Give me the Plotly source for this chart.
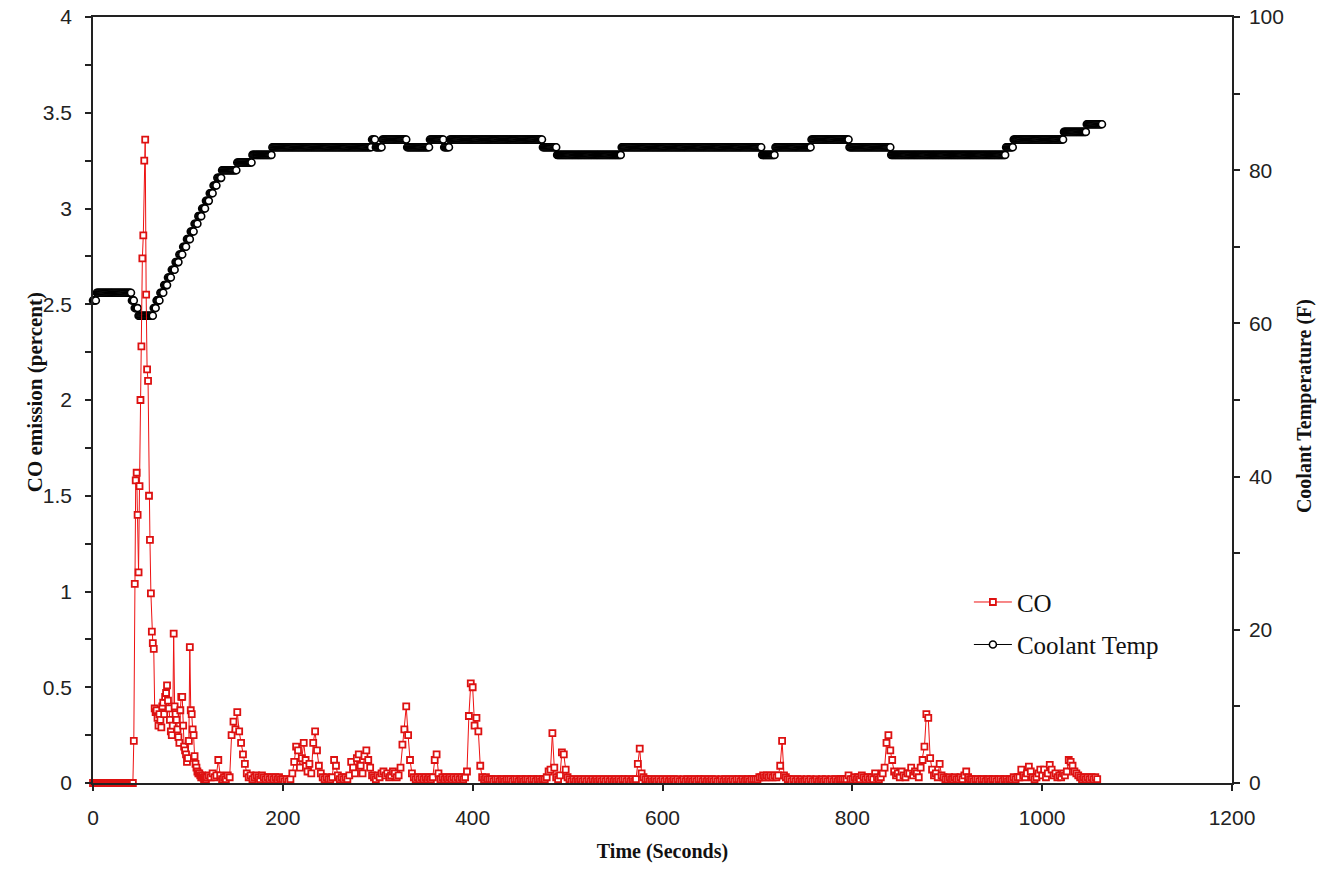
import numpy as np
import plotly.graph_objects as go

# ---------------- data ----------------
# CO emission (percent): 1-second samples for 0..119 s, then 2-second samples
co_time = list(range(0, 120)) + list(range(120, 1060, 2))
co_values = [
    # t 0..119 (1 s)
    0, 0, 0, 0, 0, 0, 0, 0, 0, 0,
    0, 0, 0, 0, 0, 0, 0, 0, 0, 0,
    0, 0, 0, 0, 0, 0, 0, 0, 0, 0,
    0, 0, 0, 0, 0, 0, 0, 0, 0, 0,
    0, 0, 0, 0.22, 1.04, 1.58, 1.62, 1.40, 1.10, 1.55,
    2.00, 2.28, 2.74, 2.86, 3.25, 3.36, 2.55, 2.16, 2.10, 1.50,
    1.27, 0.99, 0.79, 0.73, 0.70, 0.39, 0.37, 0.38, 0.34, 0.30,
    0.36, 0.33, 0.29, 0.40, 0.42, 0.36, 0.45, 0.47, 0.51, 0.43,
    0.39, 0.33, 0.27, 0.25, 0.30, 0.78, 0.40, 0.36, 0.33, 0.28,
    0.24, 0.21, 0.38, 0.45, 0.45, 0.30, 0.19, 0.17, 0.15, 0.11,
    0.13, 0.22, 0.71, 0.38, 0.36, 0.28, 0.25, 0.14, 0.10, 0.08,
    0.06, 0.05, 0.05, 0.04, 0.03, 0.04, 0.03, 0.02, 0.03, 0.02,
    # t 120..1058 (2 s)
    0.03, 0.04, 0.03, 0.05, 0.03, 0.04, 0.12, 0.04, 0.02, 0.03,   # 120
    0.02, 0.04, 0.03, 0.25, 0.32, 0.28, 0.37, 0.27, 0.21, 0.15,   # 140
    0.10, 0.05, 0.03, 0.04, 0.02, 0.03, 0.04, 0.03, 0.02, 0.04,   # 160
    0.03, 0.02, 0.03, 0.02, 0.03, 0.02, 0.03, 0.02, 0.03, 0.02,   # 180
    0.02, 0.01, 0.02, 0.01, 0.02, 0.05, 0.11, 0.19, 0.17, 0.08,   # 200
    0.13, 0.21, 0.12, 0.06, 0.10, 0.05, 0.21, 0.27, 0.17, 0.09,   # 220
    0.05, 0.03, 0.02, 0.03, 0.02, 0.02, 0.03, 0.12, 0.09, 0.04,   # 240
    0.02, 0.03, 0.02, 0.03, 0.02, 0.04, 0.11, 0.08, 0.05, 0.13,   # 260
    0.15, 0.09, 0.05, 0.14, 0.17, 0.12, 0.08, 0.04, 0.03, 0.02,   # 280
    0.04, 0.03, 0.05, 0.06, 0.04, 0.05, 0.03, 0.04, 0.06, 0.05,   # 300
    0.03, 0.04, 0.08, 0.20, 0.28, 0.40, 0.25, 0.12, 0.05, 0.03,   # 320
    0.02, 0.03, 0.02, 0.03, 0.02, 0.03, 0.02, 0.03, 0.02, 0.03,   # 340
    0.12, 0.15, 0.05, 0.02, 0.03, 0.02, 0.03, 0.02, 0.03, 0.02,   # 360
    0.03, 0.02, 0.03, 0.02, 0.03, 0.02, 0.03, 0.06, 0.35, 0.52,   # 380
    0.50, 0.30, 0.34, 0.27, 0.09, 0.03, 0.02, 0.03, 0.02, 0.02,   # 400
    0.02, 0.01, 0.02, 0.02, 0.01, 0.02, 0.02, 0.01, 0.02, 0.02,   # 420
    0.02, 0.01, 0.02, 0.02, 0.01, 0.02, 0.02, 0.01, 0.02, 0.02,   # 440
    0.01, 0.02, 0.02, 0.01, 0.02, 0.02, 0.01, 0.02, 0.02, 0.03,   # 460
    0.06, 0.07, 0.26, 0.08, 0.03, 0.02, 0.04, 0.16, 0.15, 0.07,   # 480
    0.03, 0.02, 0.01, 0.02, 0.01, 0.02, 0.01, 0.02, 0.01, 0.02,   # 500
    0.01, 0.02, 0.01, 0.02, 0.01, 0.02, 0.01, 0.02, 0.01, 0.02,   # 520
    0.01, 0.02, 0.01, 0.02, 0.01, 0.02, 0.01, 0.02, 0.01, 0.02,   # 540
    0.02, 0.01, 0.02, 0.01, 0.02, 0.01, 0.02, 0.10, 0.18, 0.05,   # 560
    0.03, 0.02, 0.02, 0.01, 0.02, 0.01, 0.02, 0.01, 0.02, 0.01,   # 580
    0.02, 0.01, 0.02, 0.01, 0.02, 0.01, 0.02, 0.01, 0.02, 0.01,   # 600
    0.01, 0.02, 0.01, 0.02, 0.01, 0.02, 0.01, 0.02, 0.01, 0.02,   # 620
    0.02, 0.01, 0.02, 0.01, 0.02, 0.01, 0.02, 0.01, 0.02, 0.01,   # 640
    0.01, 0.02, 0.01, 0.02, 0.01, 0.02, 0.01, 0.02, 0.01, 0.02,   # 660
    0.02, 0.01, 0.02, 0.01, 0.02, 0.02, 0.01, 0.02, 0.02, 0.02,   # 680
    0.02, 0.03, 0.03, 0.04, 0.03, 0.04, 0.03, 0.04, 0.03, 0.04,   # 700
    0.03, 0.04, 0.09, 0.22, 0.04, 0.03, 0.02, 0.02, 0.01, 0.02,   # 720
    0.01, 0.02, 0.01, 0.02, 0.01, 0.01, 0.02, 0.01, 0.02, 0.01,   # 740
    0.01, 0.02, 0.01, 0.01, 0.02, 0.01, 0.02, 0.01, 0.01, 0.02,   # 760
    0.01, 0.02, 0.01, 0.02, 0.02, 0.02, 0.02, 0.02, 0.04, 0.02,   # 780
    0.02, 0.03, 0.02, 0.03, 0.02, 0.04, 0.03, 0.02, 0.03, 0.02,   # 800
    0.03, 0.02, 0.05, 0.03, 0.02, 0.03, 0.05, 0.08, 0.21, 0.25,   # 820
    0.17, 0.12, 0.06, 0.04, 0.05, 0.03, 0.06, 0.04, 0.03, 0.05,   # 840
    0.05, 0.08, 0.04, 0.06, 0.05, 0.03, 0.08, 0.12, 0.19, 0.36,   # 860
    0.34, 0.13, 0.07, 0.04, 0.05, 0.03, 0.10, 0.04, 0.03, 0.02,   # 880
    0.02, 0.03, 0.02, 0.02, 0.03, 0.02, 0.02, 0.03, 0.02, 0.04,   # 900
    0.06, 0.03, 0.02, 0.02, 0.01, 0.02, 0.02, 0.01, 0.02, 0.02,   # 920
    0.01, 0.02, 0.02, 0.01, 0.02, 0.02, 0.01, 0.02, 0.02, 0.01,   # 940
    0.02, 0.02, 0.01, 0.02, 0.02, 0.03, 0.02, 0.03, 0.03, 0.07,   # 960
    0.04, 0.03, 0.05, 0.085, 0.06, 0.03, 0.02, 0.03, 0.05, 0.07,  # 980
    0.04, 0.07, 0.03, 0.05, 0.095, 0.07, 0.04, 0.05, 0.03, 0.04,  # 1000
    0.03, 0.05, 0.04, 0.06, 0.12, 0.11, 0.09, 0.06, 0.05, 0.04,   # 1020
    0.03, 0.02, 0.03, 0.02, 0.03, 0.02, 0.03, 0.02, 0.03, 0.02,   # 1040
]

# Coolant temperature (F), 1-second samples, given as level runs
coolant_levels = [63, 64, 63, 62, 61, 62, 63, 64, 65, 66, 67, 68, 69, 70, 71, 72, 73,
                  74, 75, 76, 77, 78, 79, 80, 81, 82, 83, 84, 83, 84, 83, 84, 83, 84,
                  83, 82, 83, 82, 83, 84, 83, 82, 83, 84, 85, 86]
coolant_last_second = [3, 40, 43, 47, 63, 66, 70, 74, 78, 82, 86, 90, 94, 98, 102, 106, 110,
                       114, 118, 122, 126, 130, 135, 151, 167, 188, 293, 297, 304, 330, 354, 369, 375, 473,
                       488, 556, 704, 718, 756, 796, 840, 961, 969, 1022, 1046, 1063]

x_tick_values = [0, 200, 400, 600, 800, 1000, 1200]
co_tick_values = [0, 0.5, 1, 1.5, 2, 2.5, 3, 3.5, 4]
temp_tick_values = [0, 20, 40, 60, 80, 100]

# ---------------- build series ----------------
n = min(len(co_time), len(co_values))
co_t = co_time[:n]
co_v = co_values[:n]

run_lengths = np.diff([-1] + coolant_last_second)
coolant_values = np.repeat(coolant_levels, run_lengths)
coolant_time = np.arange(len(coolant_values))

fig = go.Figure()

# Coolant temperature on the right axis (drawn first, underneath)
fig.add_trace(go.Scatter(
    x=coolant_time, y=coolant_values, name="Coolant Temp",
    mode="lines+markers", yaxis="y", legendrank=2, legendgroup="b",
    line=dict(color="black", width=1),
    marker=dict(symbol="circle", size=7, color="white",
                line=dict(color="black", width=1.6)),
    cliponaxis=False,
))

# CO on the left axis (overlaying, drawn on top)
fig.add_trace(go.Scatter(
    x=co_t, y=co_v, name="CO",
    mode="lines+markers", yaxis="y2", legendrank=1, legendgroup="a",
    line=dict(color="#ee1111", width=1),
    marker=dict(symbol="square", size=6, color="white",
                line=dict(color="#dd1111", width=1.8)),
    cliponaxis=False,
))

axis_color = "#222222"
tick_font = dict(family="Liberation Sans, Arial, sans-serif", size=21, color="#222222")
serif = "Liberation Serif, Times New Roman, serif"

fig.update_layout(
    width=1317, height=871,
    margin=dict(l=93, r=85, t=17, b=88, autoexpand=False),
    paper_bgcolor="white", plot_bgcolor="white",
    showlegend=True,
    legend=dict(
        x=0.769, y=0.266, xanchor="left", yanchor="top",
        bgcolor="rgba(0,0,0,0)", borderwidth=0,
        font=dict(family=serif, size=25, color="#111111"),
        tracegroupgap=7, itemwidth=38,
    ),
    xaxis=dict(
        range=[0, 1200], tickmode="array", tickvals=x_tick_values,
        showgrid=False, zeroline=False, automargin=False,
        showline=True, linecolor=axis_color, linewidth=1.5, mirror=True,
        ticks="outside", ticklen=6, tickcolor=axis_color, tickwidth=1.5,
        tickfont=tick_font, ticklabelstandoff=9, ticklabeloverflow="allow",
        title=dict(text="<b>Time (Seconds)</b>", font=dict(family=serif, size=20, color="#111111"),
                   standoff=16),
    ),
    yaxis=dict(
        range=[0, 100], tickmode="array", tickvals=temp_tick_values,
        side="right",
        showgrid=False, zeroline=False, automargin=False,
        showline=True, linecolor=axis_color, linewidth=1.5,
        ticks="outside", ticklen=6, tickcolor=axis_color, tickwidth=1.5,
        minor=dict(dtick=10, ticks="outside", ticklen=6, tickcolor=axis_color, tickwidth=1.5),
        tickfont=tick_font, ticklabelstandoff=5, ticklabeloverflow="allow",
    ),
    yaxis2=dict(
        range=[0, 4], tickmode="array", tickvals=co_tick_values,
        side="left", overlaying="y",
        showgrid=False, zeroline=False, automargin=False,
        showline=True, linecolor=axis_color, linewidth=1.5,
        ticks="outside", ticklen=6, tickcolor=axis_color, tickwidth=1.5,
        minor=dict(dtick=0.25, ticks="outside", ticklen=6, tickcolor=axis_color, tickwidth=1.5),
        tickfont=tick_font, ticklabelstandoff=9, ticklabeloverflow="allow",
    ),
    annotations=[
        dict(text="<b>CO emission (percent)</b>", textangle=-90,
             xref="paper", yref="paper", x=-0.051, y=0.51,
             xanchor="center", yanchor="middle", showarrow=False,
             font=dict(family=serif, size=21, color="#111111")),
        dict(text="<b>Coolant Temperature (F)</b>", textangle=-90,
             xref="paper", yref="paper", x=1.0632, y=0.492,
             xanchor="center", yanchor="middle", showarrow=False,
             font=dict(family=serif, size=20, color="#111111")),
    ],
)

# remove the page's default 8 px body margin so the figure sits at the window's corner
fig.write_html("out.html", config={"displayModeBar": False},
               post_script="document.body.style.margin='0px';")
